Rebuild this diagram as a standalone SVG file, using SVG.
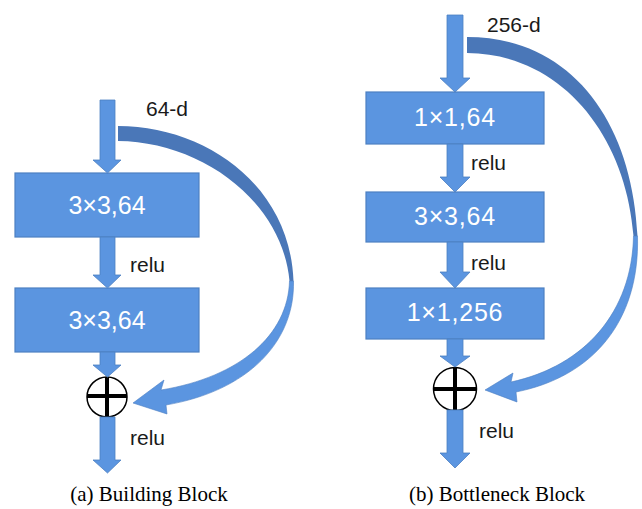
<svg xmlns="http://www.w3.org/2000/svg" width="642" height="509" viewBox="0 0 642 509">
  <style>
    .box { fill: #5b95e0; stroke: #4d80c2; stroke-width: 1.2; }
    .arr { fill: #5b95e0; stroke: #4d80c2; stroke-width: 0.8; }
    .skip-top { fill: #4a77b8; }
    .skip-bot { fill: #5b95e0; stroke: #4d80c2; stroke-width: 0.6; }
    .btxt { font-family: "Liberation Sans", Arial, sans-serif; font-size: 25px; fill: #ffffff; text-anchor: middle; }
    .lbl { font-family: "Liberation Sans", Arial, sans-serif; font-size: 21px; fill: #1a1a1a; }
    .cap { font-family: "Liberation Serif", "Times New Roman", serif; font-size: 21px; fill: #000000; text-anchor: middle; }
    .sum circle { fill: #ffffff; stroke: #000000; stroke-width: 1.5; }
    .sum line { stroke: #000000; stroke-width: 4; }
  </style>

  <!-- (a) building block -->
  <g id="a-conv1">
    <rect class="box" x="15" y="173" width="184" height="64"/>
    <text class="btxt" x="107" y="214">3×3,64</text>
  </g>
  <g id="a-conv2">
    <rect class="box" x="15" y="288" width="184" height="64"/>
    <text class="btxt" x="107" y="329">3×3,64</text>
  </g>
  <g id="a-sum" class="sum">
    <circle cx="107" cy="397" r="20"/>
    <line x1="87" y1="396" x2="127" y2="396"/>
    <line x1="107" y1="377" x2="107" y2="417"/>
  </g>

  <!-- (b) bottleneck block -->
  <g id="b-conv1">
    <rect class="box" x="366" y="92" width="178" height="52"/>
    <text class="btxt" x="455" y="126" letter-spacing="0.8">1×1,64</text>
  </g>
  <g id="b-conv2">
    <rect class="box" x="366" y="192" width="178" height="50"/>
    <text class="btxt" x="455" y="225" letter-spacing="0.8">3×3,64</text>
  </g>
  <g id="b-conv3">
    <rect class="box" x="366" y="288" width="178" height="51"/>
    <text class="btxt" x="455" y="321" letter-spacing="0.8">1×1,256</text>
  </g>
  <g id="b-sum" class="sum">
    <circle cx="455" cy="389" r="21.5"/>
    <line x1="433.5" y1="389" x2="476.5" y2="389"/>
    <line x1="455" y1="367.5" x2="455" y2="410.5"/>
  </g>

  <g id="connectors">
    <!-- (a) straight flow -->
    <polygon class="arr" points="100,100 115,100 115,160 121,160 107.5,173 93,160 100,160"/>
    <polygon class="arr" points="100,237 115,237 115,275 121,275 107.5,288 93,275 100,275"/>
    <polygon class="arr" points="100,352 115,352 115,365 121,365 107.5,377 93,365 100,365"/>
    <polygon class="arr" points="100,417 115,417 115,460 121,460 107.5,473 93,460 100,460"/>

    <!-- (a) identity shortcut -->
    <path class="skip-top" d="M118,126 C205,126 290,185 293.5,281 L289.5,281 C282,200 200,141.5 118,141 Z"/>
    <path class="skip-bot" d="M293.5,281 C295,342 248,391 166,405 L167,414 L133,403 L164,380 L161,390 C240,377 288,335 289.5,281 Z"/>

    <!-- (b) straight flow -->
    <polygon class="arr" points="447,15 463,15 463,78 470,78 455,92 440,78 447,78"/>
    <polygon class="arr" points="447,144 463,144 463,177 470,177 455,192 440,177 447,177"/>
    <polygon class="arr" points="447,242 463,242 463,272 470,272 455,288 440,272 447,272"/>
    <polygon class="arr" points="447,339 463,339 463,356 470,356 455,367 440,356 447,356"/>
    <polygon class="arr" points="447,410 463,410 463,453 470,453 455,468 440,453 447,453"/>

    <!-- (b) identity shortcut -->
    <path class="skip-top" d="M467,37 C570,37 632,120 637.5,236 L633.5,236 C626,135 561,53.5 467,53 Z"/>
    <path class="skip-bot" d="M637.5,236 C640,322 592,377 516,392 L517,402 L485,390 L513,373 L511,382 C585,366 632,312 633.5,236 Z"/>
  </g>

  <!-- labels -->
  <text class="lbl" x="146" y="116">64-d</text>
  <text class="lbl" x="130" y="272">relu</text>
  <text class="lbl" x="130" y="445">relu</text>
  <text class="lbl" x="487" y="32">256-d</text>
  <text class="lbl" x="471" y="170">relu</text>
  <text class="lbl" x="471" y="270">relu</text>
  <text class="lbl" x="479" y="438">relu</text>

  <text class="cap" x="149" y="501">(a) Building Block</text>
  <text class="cap" x="497" y="501">(b) Bottleneck Block</text>
</svg>
